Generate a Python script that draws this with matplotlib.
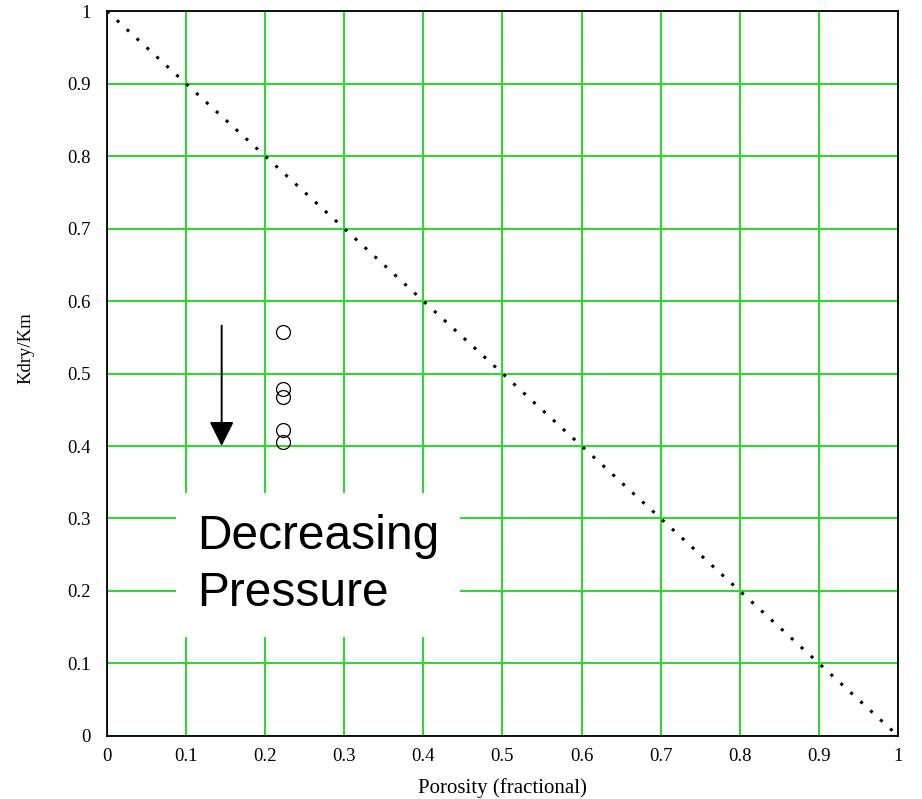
import numpy as np
import matplotlib.pyplot as plt

# Messpunkte (Porosität, Kdry/Km)
porosity = [0.222, 0.222, 0.222, 0.222, 0.222]
kdry_km = [0.558, 0.478, 0.467, 0.422, 0.405]

# Referenzlinie Kdry/Km = 1 - phi
line_x = [0.0, 1.0]
line_y = [1.0, 0.0]

ticks = [0, 0.1, 0.2, 0.3, 0.4, 0.5, 0.6, 0.7, 0.8, 0.9, 1]
tick_labels = ['0', '0.1', '0.2', '0.3', '0.4', '0.5', '0.6', '0.7', '0.8', '0.9', '1']

fig = plt.figure(figsize=(9.22, 7.99), dpi=100)
ax = fig.add_axes([0.116, 0.079, 0.858, 0.907])

ax.set_xlim(0, 1)
ax.set_ylim(0, 1)
ax.set_xticks(ticks)
ax.set_yticks(ticks)
ax.set_xticklabels(tick_labels, family='Liberation Serif', fontsize=13.5)
ax.set_yticklabels(tick_labels, family='Liberation Serif', fontsize=13.5)
ax.tick_params(axis='x', length=0, pad=9)
ax.tick_params(axis='y', length=0, pad=12)
ax.grid(True, color='#22dd22', linewidth=1.4)
ax.set_axisbelow(True)
for s in ax.spines.values():
    s.set_linewidth(1.3)
    s.set_color('black')

# gepunktete Diagonale
ax.plot(line_x, line_y, color='black', linestyle=(0, (1, 3.4)), linewidth=2.2)

# offene Kreise
ax.plot(porosity, kdry_km, linestyle='none', marker='o', markersize=10,
        markerfacecolor='none', markeredgecolor='black', markeredgewidth=0.9)

# Pfeil
ax.annotate('', xy=(0.145, 0.40), xytext=(0.145, 0.566),
            arrowprops=dict(arrowstyle='-|>,head_length=1.5,head_width=0.75',
                            color='black', lw=1.4, shrinkA=0, shrinkB=0))

# Textbox
ax.text(0.114, 0.236, 'Decreasing\nPressure', family='Liberation Sans',
        fontsize=34.5, ha='left', va='center', linespacing=1.33,
        bbox=dict(boxstyle='square,pad=0.44', facecolor='white', edgecolor='none'))

ax.set_xlabel('Porosity (fractional)', family='Liberation Serif', fontsize=15, labelpad=9)
ax.set_ylabel('Kdry/Km', family='Liberation Serif', fontsize=13.5)
ax.yaxis.set_label_coords(-0.092, 0.535)

fig.savefig('out.png', dpi=100)
